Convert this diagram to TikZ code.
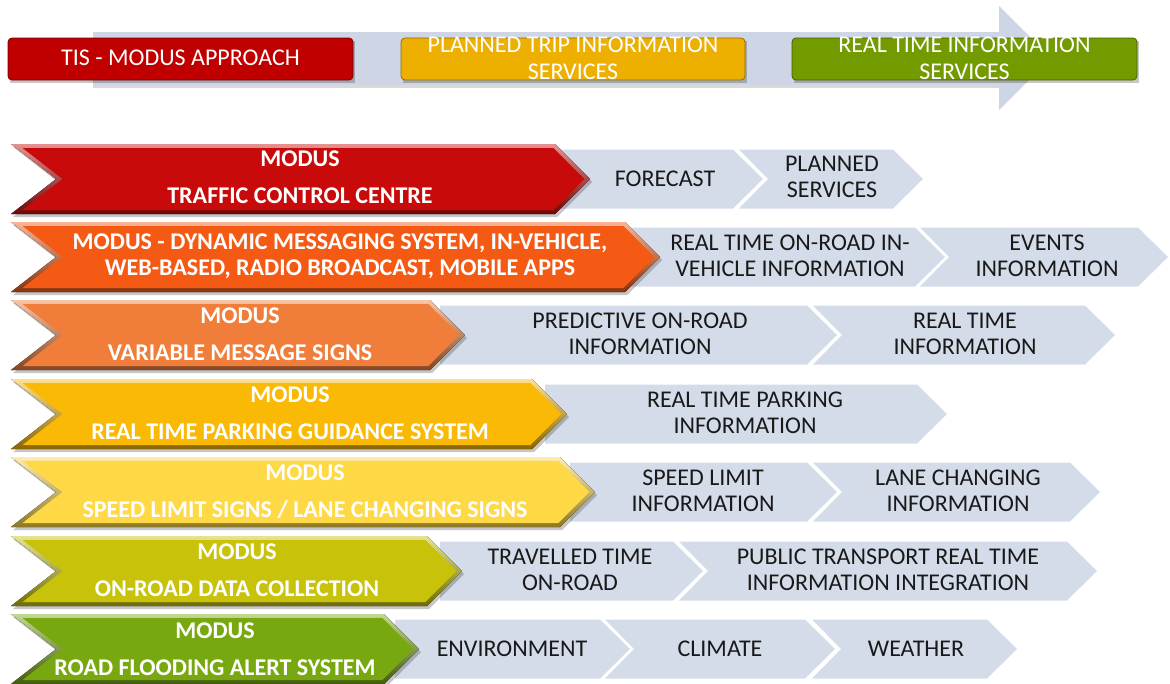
\documentclass[tikz,border=0pt]{standalone}
\usepackage{fontspec}
\setmainfont{Carlito}
\usepackage{tikz}
\usetikzlibrary{shapes,calc,backgrounds}

\definecolor{modred}{HTML}{C80A0A}
\definecolor{modorange}{HTML}{F55A14}
\definecolor{modamber}{HTML}{F07D3A}
\definecolor{modgold}{HTML}{FAB905}
\definecolor{modyellow}{HTML}{FFD945}
\definecolor{modolive}{HTML}{C8C30A}
\definecolor{modgreen}{HTML}{78A80F}
\definecolor{infogray}{HTML}{D5DCE9}
\definecolor{bargray}{HTML}{CED6E6}
\definecolor{tisred}{HTML}{C00000}
\definecolor{tisyellow}{HTML}{EEB000}
\definecolor{tisgreen}{HTML}{739B00}

\tikzset{
  infotext/.style={font=\fontsize{24}{26}\selectfont, text=black!90, align=center, inner sep=0pt},
  modtext/.style={font=\bfseries\fontsize{24}{26}\selectfont, text=white, align=center, inner sep=0pt},
  toptext/.style={font=\fontsize{24}{27}\selectfont, text=white, align=center, inner sep=0pt},
  topbox/.style={draw=#1!60!black, fill=#1, rounded corners=4pt, line width=0.8pt},
  softshadow/.style={fill=black, opacity=0.22}
}

% colour, left, tip, centre
\newcommand{\modchev}[4]{%
  \fill[softshadow] (#2+2,#4-32) -- (#3-33,#4-32) -- (#3+2,#4+3) -- (#3-33,#4+38) -- (#2+2,#4+38) -- (#2+47,#4+3) -- cycle;
  \fill[top color=#1!45!white, bottom color=#1!55!black] (#2,#4-35) -- (#3-35,#4-35) -- (#3,#4) -- (#3-35,#4+35) -- (#2,#4+35) -- (#2+45,#4) -- cycle;
  \fill[#1] (#2+11.6,#4-31) -- (#3-36.7,#4-31) -- (#3-5.7,#4) -- (#3-36.7,#4+31) -- (#2+11.6,#4+31) -- (#2+51.5,#4) -- cycle;
}
% left, notch, tip, centre
\newcommand{\infochev}[4]{%
  \fill[infogray] (#1,#4-29.5) -- (#3-30,#4-29.5) -- (#3,#4) -- (#3-30,#4+29.5) -- (#1,#4+29.5) -- (#1+#2,#4) -- cycle;
}

\begin{document}
\begin{tikzpicture}[x=1pt,y=-1pt]
\useasboundingbox (0,0) rectangle (1170,683);

\fill[softshadow, opacity=0.15] (93,85) rectangle (999,88);
\fill[bargray] (93,32) -- (999,32) -- (999,6) -- (1051,58) -- (999,110) -- (999,85) -- (93,85) -- cycle;
\fill[softshadow] (10,41) rectangle (355,83);
\fill[softshadow] (403,41) rectangle (747,83);
\fill[softshadow] (794,41) rectangle (1139,83);
\draw[topbox=tisred] (8,38) rectangle (353,80);
\draw[topbox=tisyellow] (401,38) rectangle (745,80);
\draw[topbox=tisgreen] (792,38) rectangle (1137,80);
\node[toptext] (tis) at (180.5,58) {TIS - MODUS APPROACH};
\node[toptext] (ptis) at (573,58) {PLANNED TRIP INFORMATION\\SERVICES};
\node[toptext] (rtis) at (964.5,58) {REAL TIME INFORMATION\\SERVICES};

\infochev{560}{0}{763}{179}
\infochev{739}{29}{923}{179}
\modchev{modred}{11}{590}{179}
\node[modtext] (tcc) at (300,177) {MODUS\\[11pt]TRAFFIC CONTROL CENTRE};
\node[infotext] (fc) at (665,179) {FORECAST};
\node[infotext] (ps) at (832,177) {PLANNED\\SERVICES};

\infochev{630}{0}{945}{257}
\infochev{920}{29}{1168}{257}
\modchev{modorange}{11}{660}{257}
\node[modtext] (dms) at (340,256) {MODUS - DYNAMIC MESSAGING SYSTEM, IN-VEHICLE,\\WEB-BASED, RADIO BROADCAST, MOBILE APPS};
\node[infotext] (rtor) at (790,256) {REAL TIME ON-ROAD IN-\\VEHICLE INFORMATION};
\node[infotext] (ev) at (1047,256) {EVENTS\\INFORMATION};

\infochev{440}{0}{837}{335}
\infochev{813}{29}{1115}{335}
\modchev{modamber}{11}{465}{335}
\node[modtext] (vms) at (240,334) {MODUS\\[11pt]VARIABLE MESSAGE SIGNS};
\node[infotext] (pred) at (640,334) {PREDICTIVE ON-ROAD\\INFORMATION};
\node[infotext] (rti) at (965,334) {REAL TIME\\INFORMATION};

\infochev{545}{0}{947}{414}
\modchev{modgold}{11}{567}{414}
\node[modtext] (pgs) at (290,413) {MODUS\\[11pt]REAL TIME PARKING GUIDANCE SYSTEM};
\node[infotext] (park) at (745,413) {REAL TIME PARKING\\INFORMATION};

\infochev{570}{0}{837}{492}
\infochev{813}{29}{1100}{492}
\modchev{modyellow}{11}{595}{492}
\node[modtext] (sls) at (305,492) {MODUS\\[11pt]SPEED LIMIT SIGNS / LANE CHANGING SIGNS};
\node[infotext] (spd) at (703,491) {SPEED LIMIT\\INFORMATION};
\node[infotext] (lane) at (958,491) {LANE CHANGING\\INFORMATION};

\infochev{440}{0}{703}{571}
\infochev{679}{29}{1097}{571}
\modchev{modolive}{11}{462}{571}
\node[modtext] (odc) at (237,570) {MODUS\\[11pt]ON-ROAD DATA COLLECTION};
\node[infotext] (trav) at (570,570) {TRAVELLED TIME\\ON-ROAD};
\node[infotext] (pub) at (888,570) {PUBLIC TRANSPORT REAL TIME\\INFORMATION INTEGRATION};

\infochev{395}{0}{630}{649}
\infochev{605}{29}{835}{649}
\infochev{812}{29}{1017}{649}
\modchev{modgreen}{11}{419}{649}
\node[modtext] (rfa) at (215,649) {MODUS\\[11pt]ROAD FLOODING ALERT SYSTEM};
\node[infotext] (env) at (512,649) {ENVIRONMENT};
\node[infotext] (clim) at (720,649) {CLIMATE};
\node[infotext] (wea) at (916,649) {WEATHER};
\end{tikzpicture}
\end{document}
